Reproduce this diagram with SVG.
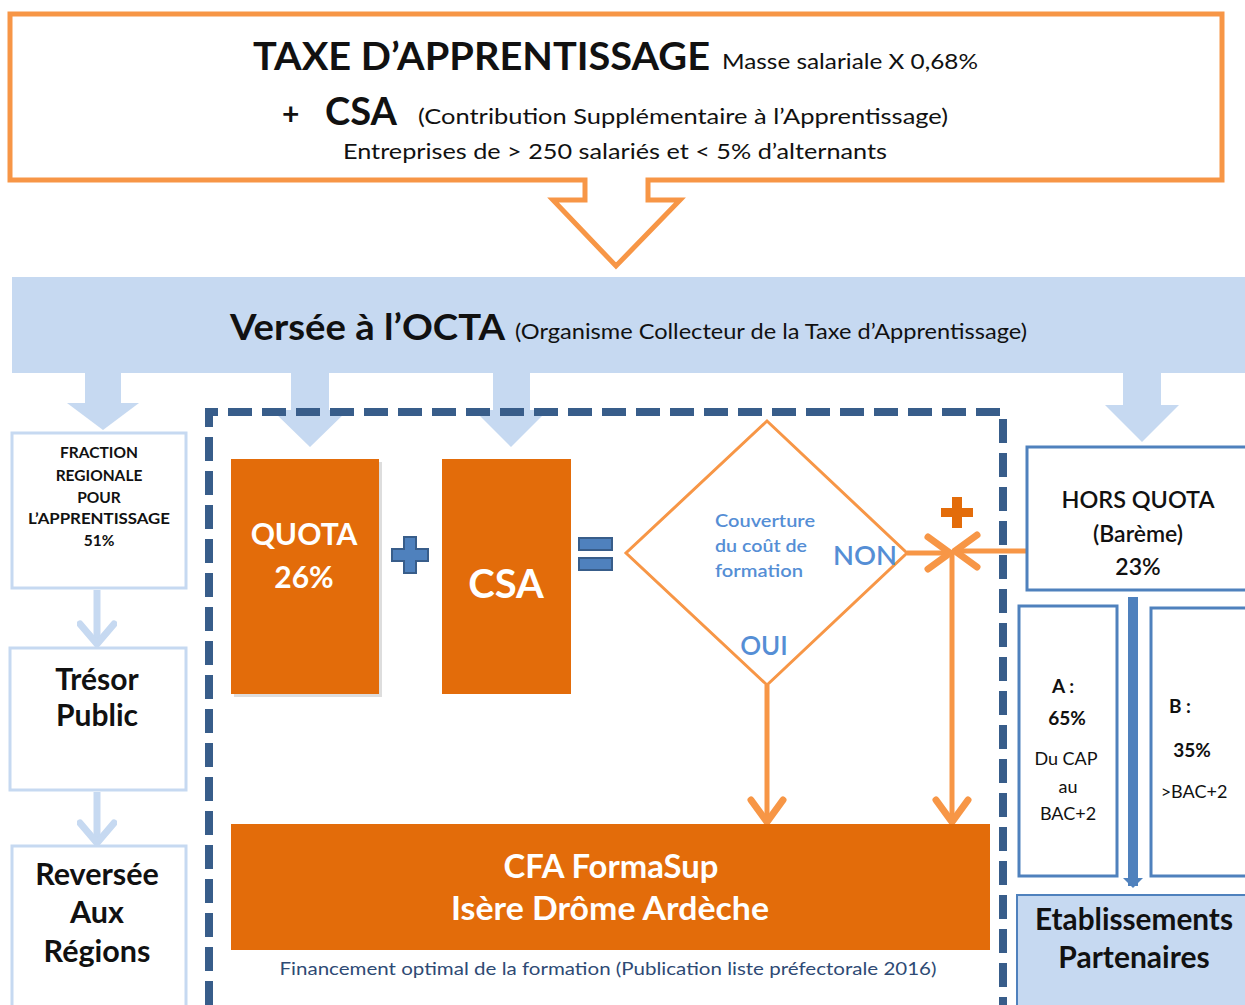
<svg xmlns="http://www.w3.org/2000/svg" width="1245" height="1005" viewBox="0 0 1245 1005">
<style>
text{font-family:Lato,"Open Sans","Liberation Sans",sans-serif;}
.b{font-weight:bold;}
.c{text-anchor:middle;}
.k{fill:#111;}
.w{fill:#fff;}
.lb{fill:#C6D9F1;}
.lbox{fill:#fff;stroke:#C6D9F1;stroke-width:3;}
.mbox{fill:#fff;stroke:#4F81BD;stroke-width:3;}
.oline{stroke:#F79646;stroke-width:5;fill:none;}
.dq{fill:#558ED5;}
</style>
<defs>
<marker id="chev" markerUnits="userSpaceOnUse" markerWidth="40" markerHeight="40" viewBox="0 0 30 40" refX="26" refY="20" orient="auto">
<path d="M4,4 L26,20 L4,36" fill="none" stroke="#F79646" stroke-width="7" stroke-linecap="round" stroke-linejoin="round"/>
</marker>
<marker id="lchev" markerUnits="userSpaceOnUse" markerWidth="40" markerHeight="40" viewBox="0 0 30 40" refX="26" refY="20" orient="auto">
<path d="M6,3 L26,20 L6,37" fill="none" stroke="#C6D9F1" stroke-width="7" stroke-linecap="round" stroke-linejoin="round"/>
</marker>
<marker id="btri" markerUnits="userSpaceOnUse" markerWidth="20" markerHeight="20" viewBox="0 0 10 20" refX="8" refY="10" orient="auto">
<path d="M0,0 L10,10 L0,20 Z" fill="#4F81BD"/>
</marker>
</defs>

<g id="taxe">
<path d="M10,14 H1222 V180 H648 V200 H680 L616,266 L553,200 H585 V180 H10 Z" fill="#fff" stroke="#F79646" stroke-width="5" stroke-linejoin="miter"/>
<text x="253" y="70" class="b k" font-size="39" textLength="457" lengthAdjust="spacingAndGlyphs">TAXE D’APPRENTISSAGE</text>
<text x="722" y="69" class="k" font-size="22" textLength="256" lengthAdjust="spacingAndGlyphs">Masse salariale X 0,68%</text>
<text x="282" y="125" class="b k" font-size="30">+</text>
<text x="325" y="125" class="b k" font-size="38" textLength="72" lengthAdjust="spacingAndGlyphs">CSA</text>
<text x="418" y="124" class="k" font-size="22" textLength="530" lengthAdjust="spacingAndGlyphs">(Contribution  Supplémentaire  à l’Apprentissage)</text>
<text x="343" y="159" class="k" font-size="22" textLength="544" lengthAdjust="spacingAndGlyphs">Entreprises de  &gt; 250 salariés et &lt; 5% d’alternants</text>
</g>

<g id="octa">
<rect x="12" y="277" width="1233" height="96" class="lb"/>
<text x="230" y="340" class="b k" font-size="37" textLength="275" lengthAdjust="spacingAndGlyphs">Versée à l’OCTA</text>
<text x="515" y="339" class="k" font-size="21" textLength="512" lengthAdjust="spacingAndGlyphs">(Organisme Collecteur de la Taxe d’Apprentissage)</text>
</g>

<g id="connectors">
<polygon class="lb" points="85,372 121,372 121,403 139,403 103,430 67,403 85,403"/>
<polygon class="lb" points="291,372 329,372 329,410 348,410 310,447 272,410 291,410"/>
<polygon class="lb" points="493,372 530,372 530,410 548,410 511,447 474,410 493,410"/>
<polygon class="lb" points="1123,372 1161,372 1161,405 1179,405 1142,442 1105,405 1123,405"/>
<line x1="97" y1="590" x2="97" y2="644" stroke="#C6D9F1" stroke-width="7" marker-end="url(#lchev)"/>
<line x1="97" y1="792" x2="97" y2="843" stroke="#C6D9F1" stroke-width="7" marker-end="url(#lchev)"/>
<line x1="907" y1="553" x2="950" y2="553" class="oline" marker-end="url(#chev)"/>
<line x1="1027" y1="551" x2="955" y2="551" class="oline" marker-end="url(#chev)"/>
<line x1="952" y1="553" x2="952" y2="822" class="oline" marker-end="url(#chev)"/>
<line x1="767" y1="685" x2="767" y2="822" class="oline" marker-end="url(#chev)"/>
<line x1="1133" y1="597" x2="1133" y2="886" stroke="#4F81BD" stroke-width="10" marker-end="url(#btri)"/>
</g>

<g id="cadre">
<path d="M209,1005 V412 H1003 V1005" fill="none" stroke="#385D8A" stroke-width="8" stroke-dasharray="24 10"/>
</g>

<g id="fraction">
<rect x="12" y="433" width="174" height="155" class="lbox"/>
<text x="99" y="458" class="b c k" font-size="15.5">FRACTION</text>
<text x="99" y="481" class="b c k" font-size="15.5">REGIONALE</text>
<text x="99" y="503" class="b c k" font-size="15.5">POUR</text>
<text x="99" y="524" class="b c k" font-size="15.5" textLength="142" lengthAdjust="spacingAndGlyphs">L’APPRENTISSAGE</text>
<text x="99" y="546" class="b c k" font-size="15.5">51%</text>
</g>

<g id="tresor">
<rect x="10" y="648" width="176" height="142" class="lbox"/>
<text x="97" y="690" class="b c k" font-size="30">Trésor</text>
<text x="97" y="726" class="b c k" font-size="30">Public</text>
</g>

<g id="regions">
<rect x="12" y="846" width="174" height="165" class="lbox"/>
<text x="97" y="885" class="b c k" font-size="30.5">Reversée</text>
<text x="97" y="923" class="b c k" font-size="30.5">Aux</text>
<text x="97" y="962" class="b c k" font-size="30.5">Régions</text>
</g>

<g id="quota">
<rect x="234" y="462" width="148" height="235" fill="#bbb" opacity="0.5"/>
<rect x="231" y="459" width="148" height="235" fill="#E36C0A"/>
<text x="304" y="545" class="b c w" font-size="30">QUOTA</text>
<text x="304" y="588" class="b c w" font-size="30">26%</text>
</g>

<g id="plus">
<path d="M404,537 H416 V549 H428 V561 H416 V573 H404 V561 H392 V549 H404 Z" fill="#4F81BD" stroke="#385D8A" stroke-width="2"/>
</g>

<g id="csa">
<rect x="442" y="459" width="129" height="235" fill="#E36C0A"/>
<text x="506" y="598" class="b c w" font-size="40">CSA</text>
</g>

<g id="egal">
<rect x="579" y="538" width="33" height="12" fill="#4F81BD" stroke="#385D8A" stroke-width="2"/>
<rect x="579" y="558" width="33" height="12" fill="#4F81BD" stroke="#385D8A" stroke-width="2"/>
</g>

<g id="couverture">
<polygon points="767,421 907,553 767,685 626,553" fill="#fff" stroke="#F79646" stroke-width="3"/>
<text x="715" y="527" class="dq" font-size="17" font-weight="600" textLength="100" lengthAdjust="spacingAndGlyphs">Couverture</text>
<text x="715" y="552" class="dq" font-size="17" font-weight="600" textLength="92" lengthAdjust="spacingAndGlyphs">du coût de</text>
<text x="715" y="577" class="dq" font-size="17" font-weight="600" textLength="88" lengthAdjust="spacingAndGlyphs">formation</text>
<text x="833" y="565" class="dq" font-size="26" font-weight="600" textLength="64" lengthAdjust="spacingAndGlyphs">NON</text>
<text x="764" y="655" class="dq c" font-size="26" font-weight="600">OUI</text>
</g>

<g id="plus-orange">
<path d="M952,497 H962 V508 H973 V517 H962 V528 H952 V517 H941 V508 H952 Z" fill="#E36C0A"/>
</g>

<g id="cfa">
<rect x="231" y="824" width="759" height="126" fill="#E36C0A"/>
<text x="611" y="878" class="b c w" font-size="32" textLength="215" lengthAdjust="spacingAndGlyphs">CFA FormaSup</text>
<text x="610" y="920" class="b c w" font-size="32" textLength="318" lengthAdjust="spacingAndGlyphs">Isère Drôme Ardèche</text>
<text x="608" y="975" class="c" font-size="17" fill="#2E4A74" textLength="657" lengthAdjust="spacingAndGlyphs">Financement optimal de la formation (Publication liste préfectorale 2016)</text>
</g>

<g id="horsquota">
<rect x="1027" y="447" width="225" height="143" class="mbox"/>
<text x="1138" y="508" class="c k" font-size="23" font-weight="600" textLength="153" lengthAdjust="spacingAndGlyphs">HORS QUOTA</text>
<text x="1138" y="542" class="c k" font-size="23" font-weight="600">(Barème)</text>
<text x="1138" y="575" class="c k" font-size="23" font-weight="600">23%</text>
</g>

<g id="a">
<rect x="1019" y="606" width="98" height="270" class="mbox"/>
<text x="1063" y="693" class="b c k" font-size="19">A :</text>
<text x="1067" y="725" class="b c k" font-size="19">65%</text>
<text x="1066" y="765" class="c k" font-size="18">Du CAP</text>
<text x="1068" y="793" class="c k" font-size="18">au</text>
<text x="1068" y="820" class="c k" font-size="18">BAC+2</text>
</g>

<g id="b">
<rect x="1151" y="608" width="100" height="268" class="mbox"/>
<text x="1180" y="713" class="b c k" font-size="19">B :</text>
<text x="1192" y="757" class="b c k" font-size="19">35%</text>
<text x="1194" y="798" class="c k" font-size="18">&gt;BAC+2</text>
</g>

<g id="etablissements">
<rect x="1017" y="895" width="235" height="115" fill="#C6D9F1" stroke="#4F81BD" stroke-width="2"/>
<text x="1134" y="930" class="b c k" font-size="30" textLength="198" lengthAdjust="spacingAndGlyphs">Etablissements</text>
<text x="1134" y="968" class="b c k" font-size="30">Partenaires</text>
</g>
</svg>
